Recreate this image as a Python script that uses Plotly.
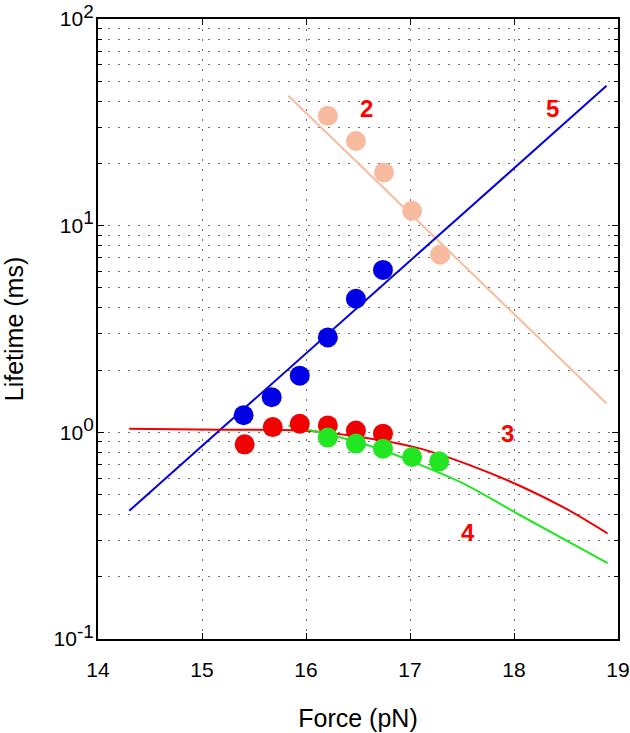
import math
import plotly.graph_objects as go

# ---- data ----
# measured points (Force in pN, Lifetime in ms)
s2_force = [16.21, 16.48, 16.75, 17.02, 17.29]
s2_life = [34.0, 25.7, 18.1, 11.8, 7.24]

s5_force = [15.40, 15.67, 15.94, 16.21, 16.48, 16.74]
s5_life = [1.21, 1.48, 1.88, 2.88, 4.43, 6.11]

s3_force = [15.41, 15.68, 15.94, 16.21, 16.48, 16.74]
s3_life = [0.875, 1.06, 1.10, 1.08, 1.02, 0.985]

s4_force = [16.21, 16.48, 16.74, 17.02, 17.28]
s4_life = [0.943, 0.882, 0.834, 0.76, 0.724]

# fitted curves
fit2_force = [15.83, 18.89]
fit2_life = [42.5, 1.38]

fit5_force = [14.3, 18.89]
fit5_life = [0.417, 47.5]

fit3_force = [14.3, 15.17, 15.97, 16.52, 17.10, 17.58, 18.06, 18.5, 18.9]
fit3_life = [1.04, 1.03, 1.02, 0.949, 0.834, 0.692, 0.55, 0.427, 0.324]

fit4_force = [15.83, 16.13, 16.49, 16.74, 17.03, 17.5, 18.06, 18.9]
fit4_life = [1.08, 1.0, 0.898, 0.819, 0.719, 0.57, 0.397, 0.233]

# curve labels
label_text = ["2", "5", "3", "4"]
label_force = [16.58, 18.37, 17.94, 17.56]
label_life = [36.7, 36.7, 0.99, 0.329]

x_ticks = [14, 15, 16, 17, 18, 19]
y_ticks = [0.1, 1, 10, 100]
y_exponents = ["-1", "0", "1", "2"]
y_minor = [m * d for d in (0.1, 1, 10) for m in range(2, 10)]

# ---- styles ----
PEACH = "#F9BBA0"
BLUE = "#0000E6"
RED = "#F00000"
GREEN = "#22E622"
FONT = "Liberation Sans, Arial, sans-serif"
GRID = dict(gridcolor="#707070", griddash="2px,8px", gridwidth=1)

y_ticktext = ["10<sup><span style='font-size:19px'>%s</span></sup>" % e for e in y_exponents]

fig = go.Figure()

for fx, fy, col in [(fit2_force, fit2_life, PEACH), (fit5_force, fit5_life, BLUE),
                    (fit3_force, fit3_life, RED), (fit4_force, fit4_life, GREEN)]:
    fig.add_trace(go.Scatter(x=fx, y=fy, mode="lines",
                             line=dict(color=col, width=2, shape="spline", smoothing=1.0),
                             showlegend=False, hoverinfo="skip"))

for px, py, col in [(s2_force, s2_life, PEACH), (s5_force, s5_life, BLUE),
                    (s3_force, s3_life, RED), (s4_force, s4_life, GREEN)]:
    fig.add_trace(go.Scatter(x=px, y=py, mode="markers", marker=dict(color=col, size=20, line=dict(width=0)),
                             showlegend=False))

for t, lx, ly in zip(label_text, label_force, label_life):
    # annotations on a log axis take log10 positions
    fig.add_annotation(x=lx, y=math.log10(ly), text="<b>%s</b>" % t, showarrow=False,
                       font=dict(family=FONT, size=24, color="#FF0000"))

fig.update_layout(
    width=630, height=733,
    margin=dict(l=98, r=12, t=19, b=94, autoexpand=False),
    paper_bgcolor="white", plot_bgcolor="white",
    font=dict(family=FONT, color="black"),
    xaxis=dict(
        range=[14, 19], tickmode="array", tickvals=x_ticks, automargin=False,
        showline=True, linecolor="black", linewidth=2, mirror="ticks",
        ticks="inside", ticklen=6, tickcolor="black", tickwidth=1,
        showgrid=True, **GRID, zeroline=False,
        tickfont=dict(size=21, family=FONT), ticklabelstandoff=11,
        title=dict(text="Force (pN)", font=dict(size=25, family=FONT), standoff=29),
    ),
    yaxis=dict(
        type="log", range=[-1, 2], tickmode="array", tickvals=y_ticks, ticktext=y_ticktext,
        automargin=False,
        showline=True, linecolor="black", linewidth=2, mirror="ticks",
        ticks="inside", ticklen=6, tickcolor="black", tickwidth=1,
        showgrid=True, **GRID, zeroline=False,
        tickfont=dict(size=21, family=FONT), ticklabelstandoff=-2,
        minor=dict(tickvals=y_minor, ticks="inside", ticklen=4, tickcolor="black",
                   showgrid=True, **GRID),
        title=dict(text="Lifetime (ms)", font=dict(size=25, family=FONT), standoff=26),
    ),
)

# remove the browser's default 8px body margin so the figure fills the window exactly
fig.write_html("out.html", config={"displayModeBar": False},
               post_script="document.body.style.margin='0';document.body.style.overflow='hidden';")
